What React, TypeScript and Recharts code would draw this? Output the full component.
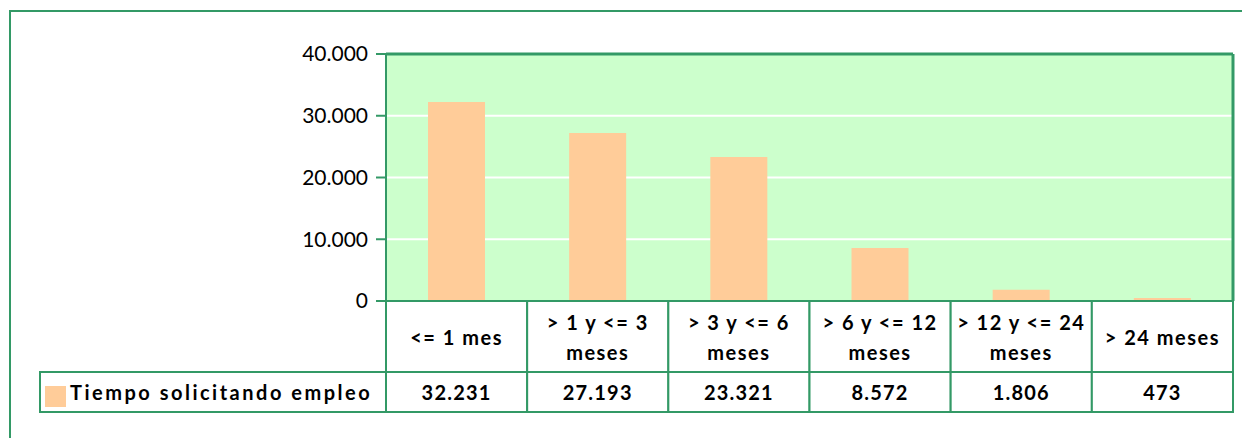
import React from 'react';
import { BarChart, Bar, XAxis, YAxis, CartesianGrid } from 'recharts';

// categories (line break = wrap in the table cell)
const categories = [
  '<= 1 mes',
  '> 1 y <= 3\nmeses',
  '> 3 y <= 6\nmeses',
  '> 6 y <= 12\nmeses',
  '> 12 y <= 24\nmeses',
  '> 24 meses',
];
const values = [32231, 27193, 23321, 8572, 1806, 473];
const seriesName = 'Tiempo solicitando empleo';
const yTicks = [0, 10000, 20000, 30000, 40000];

const W = 1242;
const H = 438;
const margin = { top: 53, right: 8, left: 0, bottom: 0 };
const Y_AXIS_W = 386;
const TABLE_H = 137;
const CAT_ROW = 71;
const VAL_ROW = 40;
const LEGEND_X = 40;
const GREEN = '#339966';
const FONT = 'Lato, "Open Sans", sans-serif';

const fmt = (v: number) => String(v).replace(/\B(?=(\d{3})+(?!\d))/g, '.');

const data = categories.map((c, i) => ({ name: c, value: values[i] }));
const bandW = (W - Y_AXIS_W - 1 - margin.left - margin.right) / categories.length;

const TableTick = (props: any) => {
  const { x, y, payload } = props;
  const i = payload.index;
  const lines = String(payload.value).split('\n');
  const left = x - bandW / 2;
  const catMid = y + CAT_ROW / 2;
  return (
    <g fontFamily={FONT} fontWeight="bold" fontSize={20} fill="#000">
      <rect x={left} y={y} width={bandW} height={CAT_ROW} fill="#fff" stroke={GREEN} strokeWidth={2} />
      <rect x={left} y={y + CAT_ROW} width={bandW} height={VAL_ROW} fill="#fff" stroke={GREEN} strokeWidth={2} />
      {lines.length === 1 ? (
        <text x={x} y={catMid} textAnchor="middle" dominantBaseline="central" letterSpacing={1.5}>{lines[0]}</text>
      ) : (
        lines.map((l, k) => (
          <text key={k} x={x} y={catMid + (k === 0 ? -15 : 15)} textAnchor="middle" dominantBaseline="central" letterSpacing={1.5}>{l}</text>
        ))
      )}
      <text x={x} y={y + CAT_ROW + VAL_ROW / 2} textAnchor="middle" dominantBaseline="central" letterSpacing={1.2}>
        {fmt(values[i])}
      </text>
      {i === 0 && (
        <g>
          <rect x={LEGEND_X} y={y + CAT_ROW} width={left - LEGEND_X} height={VAL_ROW} fill="#fff" stroke={GREEN} strokeWidth={2} />
          <rect x={LEGEND_X + 5} y={y + CAT_ROW + 14} width={21} height={21} fill="#ffcc99" />
          <text x={LEGEND_X + 30} y={y + CAT_ROW + VAL_ROW / 2} dominantBaseline="central" letterSpacing={2.5}>{seriesName}</text>
        </g>
      )}
    </g>
  );
};

export default function App() {
  return (
    <div style={{ position: 'fixed', left: 0, top: 0, width: W, height: H, overflow: 'hidden', background: '#fff' }}>
      <div style={{ position: 'absolute', left: 9, top: 10, width: 1300, height: 500, border: `2px solid ${GREEN}` }} />
      <div style={{ position: 'absolute', left: 0, top: 0 }}>
        <BarChart width={W} height={H} data={data} margin={margin} barSize={57}>
          <CartesianGrid vertical={false} stroke="#ffffff" strokeWidth={2} fill="#ccffcc" />
          <XAxis
            dataKey="name"
            height={TABLE_H}
            tickSize={0}
            tickMargin={0}
            interval={0}
            axisLine={{ stroke: GREEN, strokeWidth: 2 }}
            tick={<TableTick />}
          />
          <XAxis xAxisId="top" dataKey="name" orientation="top" height={1} tick={false} tickLine={false} axisLine={{ stroke: GREEN, strokeWidth: 3 }} />
          <YAxis
            width={Y_AXIS_W}
            domain={[0, 40000]}
            ticks={yTicks}
            tickFormatter={fmt}
            tickSize={10}
            tickMargin={8}
            axisLine={{ stroke: GREEN, strokeWidth: 2 }}
            tickLine={{ stroke: GREEN, strokeWidth: 2 }}
            tick={{ fill: '#000', fontSize: 21, fontFamily: FONT }}
          />
          <YAxis yAxisId="right" orientation="right" width={1} domain={[0, 40000]} tick={false} tickLine={false} axisLine={{ stroke: GREEN, strokeWidth: 3 }} />
          <Bar dataKey="value" name={seriesName} fill="#ffcc99" isAnimationActive={false} />
        </BarChart>
      </div>
    </div>
  );
}
